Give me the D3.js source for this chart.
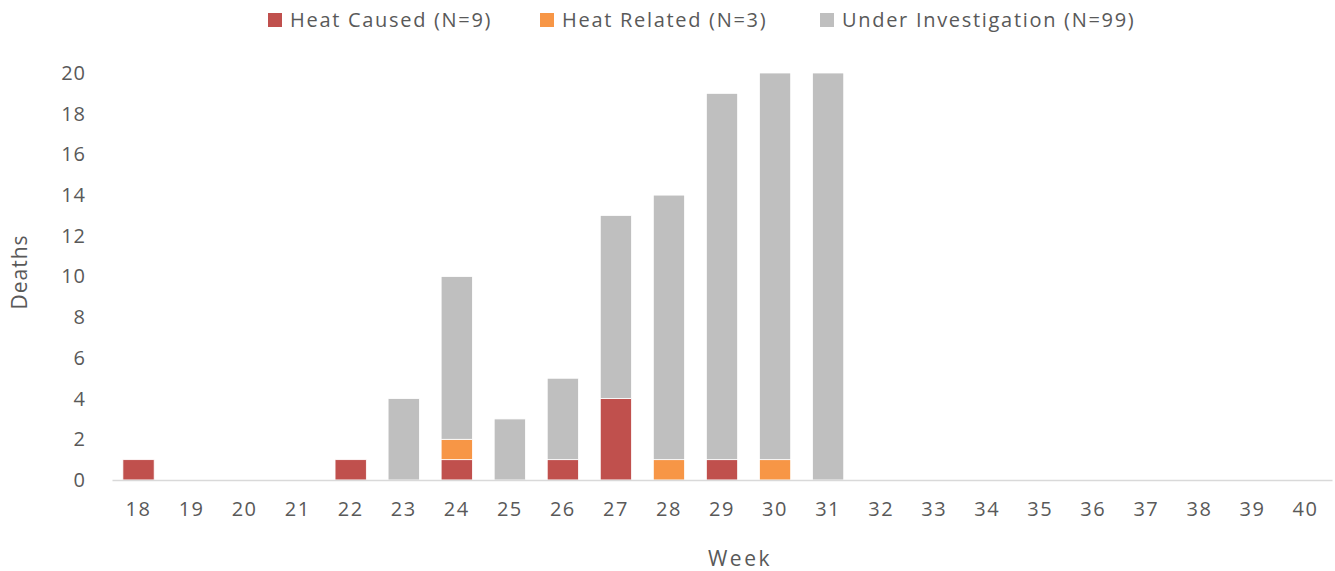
<!DOCTYPE html>
<meta charset="utf-8">
<style>
body { margin: 0; background: #fff; }
text { font-family: "Open Sans", sans-serif; fill: #595959; }
</style>
<body>
<svg width="1335" height="571"></svg>
<script src="https://cdn.jsdelivr.net/npm/d3@7"></script>
<script>

var weeks = d3.range(18, 41).map(String);
var heatCaused  = [1,0,0,0,1,0,1,0,1,4,0,1,0,0,0,0,0,0,0,0,0,0,0];
var heatRelated = [0,0,0,0,0,0,1,0,0,0,1,0,1,0,0,0,0,0,0,0,0,0,0];
var underInv    = [0,0,0,0,0,4,8,3,4,9,13,18,19,20,0,0,0,0,0,0,0,0,0];
var seriesNames = ["Heat Caused (N=9)", "Heat Related (N=3)", "Under Investigation (N=99)"];
var seriesColors = ["#c0504d", "#f79646", "#bfbfbf"];
var yTicks = [0, 2, 4, 6, 8, 10, 12, 14, 16, 18, 20];

var svg = d3.select("svg");

var rows = weeks.map(function(w, i) {
  return { week: w, a: heatCaused[i], b: heatRelated[i], c: underInv[i] };
});
var stack = d3.stack().keys(["a", "b", "c"])(rows);

var x = d3.scaleBand()
    .domain(weeks)
    .range([112, 1332])
    .paddingInner(0.41)
    .paddingOuter(0.205);

var y = d3.scaleLinear()
    .domain([0, 20])
    .range([480, 73]);

// bars
svg.append("g")
  .selectAll("g")
  .data(stack)
  .enter().append("g")
    .attr("fill", function(d, i) { return seriesColors[i]; })
  .selectAll("rect")
  .data(function(d) { return d.filter(function(p) { return p[1] > p[0]; }); })
  .enter().append("rect")
    .attr("x", function(d) { return x(d.data.week); })
    .attr("y", function(d) { return y(d[1]); })
    .attr("width", x.bandwidth())
    .attr("height", function(d) { return y(d[0]) - y(d[1]); })
    .attr("stroke", "#fff")
    .attr("stroke-width", 0.8);

// x axis
var xAxis = svg.append("g")
    .attr("transform", "translate(0,480)")
    .call(d3.axisBottom(x).tickSize(0).tickPadding(22));
xAxis.select(".domain").attr("stroke", "#d9d9d9").attr("stroke-width", 1.5);
xAxis.selectAll("text")
    .style("font-size", "20px")
    .style("letter-spacing", "1.5px")
    .attr("fill", "#595959");

// y axis
var yAxis = svg.append("g")
    .attr("transform", "translate(86,0)")
    .call(d3.axisLeft(y).tickValues(yTicks).tickSize(0).tickPadding(0));
yAxis.select(".domain").remove();
yAxis.selectAll("text")
    .style("font-size", "20px")
    .style("letter-spacing", "1px")
    .attr("fill", "#595959");

// axis titles
svg.append("text")
    .attr("x", 740)
    .attr("y", 566)
    .attr("text-anchor", "middle")
    .style("font-size", "21px")
    .style("letter-spacing", "2.5px")
    .text("Week");

svg.append("text")
    .attr("transform", "translate(27,272) rotate(-90)")
    .attr("text-anchor", "middle")
    .style("font-size", "21px")
    .style("letter-spacing", "1px")
    .text("Deaths");

// legend
var legendX = [268, 540, 820];
var legend = svg.append("g").selectAll("g")
  .data(seriesNames)
  .enter().append("g")
    .attr("transform", function(d, i) { return "translate(" + legendX[i] + ",13)"; });

legend.append("rect")
    .attr("width", 14)
    .attr("height", 14)
    .attr("fill", function(d, i) { return seriesColors[i]; });

legend.append("text")
    .attr("x", 22)
    .attr("y", 14)
    .style("font-size", "20px")
    .style("letter-spacing", "1.7px")
    .text(function(d) { return d; });

</script>
</body>
